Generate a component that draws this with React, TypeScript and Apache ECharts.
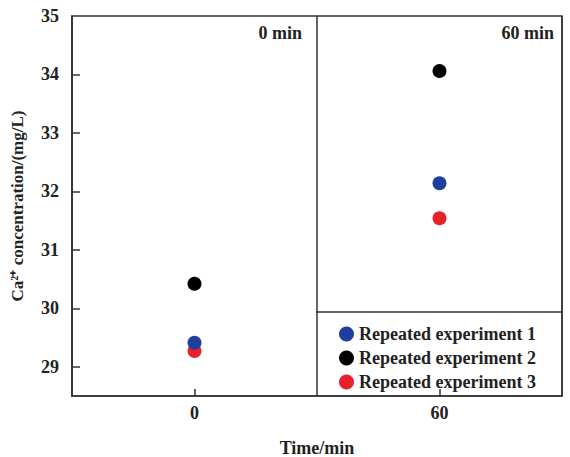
import React, { useEffect, useRef } from "react";
import * as echarts from "echarts";

const categories = ["0", "60"];
const seriesNames = ["Repeated experiment 1", "Repeated experiment 2", "Repeated experiment 3"];
const exp1 = [29.41, 32.14];
const exp2 = [30.42, 34.06];
const exp3 = [29.27, 31.54];
const seriesColors = ["#1f3f9c", "#000000", "#e8202a"];
const yTicks = [29, 30, 31, 32, 33, 34];
const yLabels = [29, 30, 31, 32, 33, 34, 35];
const panelLabels = ["0 min", "60 min"];

const FONT = "'Liberation Serif', 'Times New Roman', serif";
const AX = "#333333";

export default function App() {
  const ref = useRef<HTMLDivElement>(null);
  useEffect(() => {
    if (!ref.current) return;
    const chart = echarts.init(ref.current, null, { renderer: "svg" });
    const values = [exp1, exp2, exp3];
    const series = [2, 1, 0].map((i) => ({
      name: seriesNames[i],
      type: "scatter",
      symbol: "circle",
      symbolSize: 14,
      itemStyle: { color: seriesColors[i], opacity: 1 },
      data: values[i],
      z: 10 - i,
    }));
    chart.setOption({
      animation: false,
      backgroundColor: "#ffffff",
      textStyle: { fontFamily: FONT },
      grid: {
        left: 72,
        top: 16,
        right: 8,
        bottom: 61,
        show: true,
        borderColor: AX,
        borderWidth: 1.5,
        containLabel: false,
        outerBoundsMode: "none",
      },
      legend: {
        orient: "vertical",
        left: 334,
        top: 320,
        data: seriesNames,
        icon: "circle",
        itemWidth: 15,
        itemHeight: 15,
        itemGap: 6,
        textStyle: { fontFamily: FONT, fontWeight: "bold", fontSize: 18, color: "#222" },
      },
      xAxis: {
        type: "category",
        data: categories,
        boundaryGap: true,
        name: "Time/min",
        nameLocation: "middle",
        nameGap: 43,
        nameTextStyle: { fontFamily: FONT, fontWeight: "bold", fontSize: 18, color: "#222" },
        axisLine: { lineStyle: { color: AX, width: 1.5 } },
        axisTick: { show: true, inside: true, alignWithLabel: true, length: 7, lineStyle: { color: AX, width: 1.5 } },
        axisLabel: { fontFamily: FONT, fontWeight: "bold", fontSize: 18, color: "#222", margin: 8 },
        splitLine: { show: true, lineStyle: { color: AX, width: 1.5 } },
      },
      yAxis: {
        type: "value",
        min: 28.5,
        max: 35,
        name: "Ca²⁺ concentration/(mg/L)",
        nameLocation: "middle",
        nameGap: 46,
        nameTextStyle: { fontFamily: FONT, fontWeight: "bold", fontSize: 17, color: "#222" },
        axisLine: { show: true, lineStyle: { color: AX, width: 1.5 } },
        axisTick: { show: true, inside: true, length: 8, customValues: yTicks, lineStyle: { color: AX, width: 1.5 } },
        axisLabel: { fontFamily: FONT, fontWeight: "bold", fontSize: 18, color: "#222", margin: 13, customValues: yLabels },
        splitLine: { show: false },
      },
      graphic: [
        { type: "line", shape: { x1: 316, y1: 312, x2: 562, y2: 312 }, style: { stroke: AX, lineWidth: 1.5 }, z: 100 },
        { type: "text", right: 570 - 302, top: 24, style: { text: panelLabels[0], font: `bold 18px ${FONT}`, fill: "#222" } },
        { type: "text", right: 570 - 554, top: 24, style: { text: panelLabels[1], font: `bold 18px ${FONT}`, fill: "#222" } },
      ],
      series,
    });
    return () => chart.dispose();
  }, []);
  return <div ref={ref} style={{ position: "fixed", left: 0, top: 0, width: 570, height: 457 }} />;
}
